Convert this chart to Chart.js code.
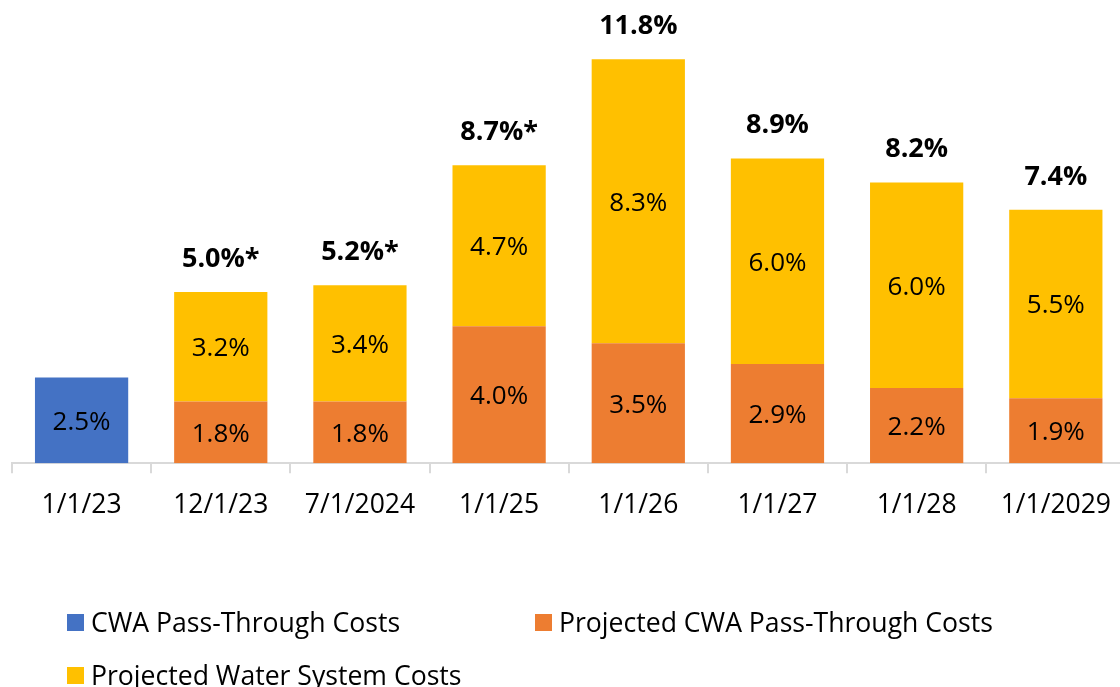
<!DOCTYPE html>
<html>
<head>
<meta charset="utf-8">
<script src="https://cdn.jsdelivr.net/npm/chart.js@4"></script>
<style>
  html, body { margin: 0; padding: 0; background: #fff; overflow: hidden; }
  #wrap { position: relative; width: 1127px; height: 687px; }
  .legend-item { position: absolute; display: flex; align-items: center; height: 34px; font: 26.6px "Open Sans"; color: #000; white-space: nowrap; }
  .legend-item span.box { display: inline-block; width: 17px; height: 17px; margin-right: 7px; }
</style>
</head>
<body>
<div id="wrap">
  <canvas id="myChart"></canvas>
</div>
<script>
'use strict';

let dates = ['1/1/23', '12/1/23', '7/1/2024', '1/1/25', '1/1/26', '1/1/27', '1/1/28', '1/1/2029'];
let cwaCosts = [2.5, null, null, null, null, null, null, null];
let projectedCwaCosts = [null, 1.8, 1.8, 4.0, 3.5, 2.9, 2.2, 1.9];
let waterSystemCosts = [null, 3.2, 3.4, 4.7, 8.3, 6.0, 6.0, 5.5];
let totalLabels = [null, '5.0%*', '5.2%*', '8.7%*', '11.8%', '8.9%', '8.2%', '7.4%'];

Chart.defaults.font.family = '"Open Sans"';
Chart.defaults.color = '#000';

// draws the % inside each segment and the bold total above each stack
let barLabels = {
  id: 'barLabels',
  afterDatasetsDraw(chart) {
    let ctx = chart.ctx;
    ctx.save();
    ctx.textAlign = 'center';
    ctx.textBaseline = 'middle';
    ctx.fillStyle = '#000';
    ctx.font = '26px "Open Sans"';
    chart.data.datasets.forEach((ds, i) => {
      let meta = chart.getDatasetMeta(i);
      meta.data.forEach((bar, j) => {
        let v = ds.data[j];
        if (v === null) return;
        ctx.fillText(v.toFixed(1) + '%', bar.x, (bar.y + bar.base) / 2 + 2);
      });
    });
    ctx.font = 'bold 27px "Open Sans"';
    let x = chart.scales.x;
    let y = chart.scales.y;
    totalLabels.forEach((t, j) => {
      if (!t) return;
      let sum = 0;
      chart.data.datasets.forEach(ds => { sum += ds.data[j] || 0; });
      ctx.fillText(t, x.getPixelForValue(j), y.getPixelForValue(sum) - 33);
    });
    ctx.restore();
  }
};

let chartStuff = {
  type: 'bar',
  data: {
    labels: dates,
    datasets: [{
      label: 'CWA Pass-Through Costs',
      data: cwaCosts,
      backgroundColor: '#4472C4'
    },
    {
      label: 'Projected CWA Pass-Through Costs',
      data: projectedCwaCosts,
      backgroundColor: '#ED7D31'
    },
    {
      label: 'Projected Water System Costs',
      data: waterSystemCosts,
      backgroundColor: '#FFC000'
    }]
  },
  options: {
    responsive: true,
    maintainAspectRatio: false,
    animation: false,
    layout: {
      padding: { left: 12, right: 0, top: 1, bottom: 150 }
    },
    datasets: {
      bar: { categoryPercentage: 1, barPercentage: 0.67, skipNull: false }
    },
    plugins: {
      legend: { display: false },
      tooltip: { enabled: false }
    },
    scales: {
      x: {
        stacked: true,
        grid: { offset: true, drawOnChartArea: false, tickLength: 10, color: '#d9d9d9', lineWidth: 2 },
        border: { color: '#d9d9d9', width: 2 },
        ticks: { font: { size: 26.5 }, color: '#000', padding: 16 }
      },
      y: {
        stacked: true,
        display: false,
        min: 0,
        max: 13.5
      }
    }
  },
  plugins: [barLabels]
};

const ctx = document.getElementById('myChart').getContext('2d');
// eslint-disable-next-line no-undef
let chart = new Chart(ctx, chartStuff);

// legend laid out like the original, two columns
let legendSpots = [[67, 622], [535, 622], [67, 675]];
let wrap = document.getElementById('wrap');
chart.data.datasets.forEach((ds, i) => {
  let item = document.createElement('div');
  item.className = 'legend-item';
  item.style.left = legendSpots[i][0] + 'px';
  item.style.top = (legendSpots[i][1] - 17) + 'px';
  let box = document.createElement('span');
  box.className = 'box';
  box.style.background = ds.backgroundColor;
  item.appendChild(box);
  item.appendChild(document.createTextNode(ds.label));
  wrap.appendChild(item);
});
</script>
</body>
</html>
